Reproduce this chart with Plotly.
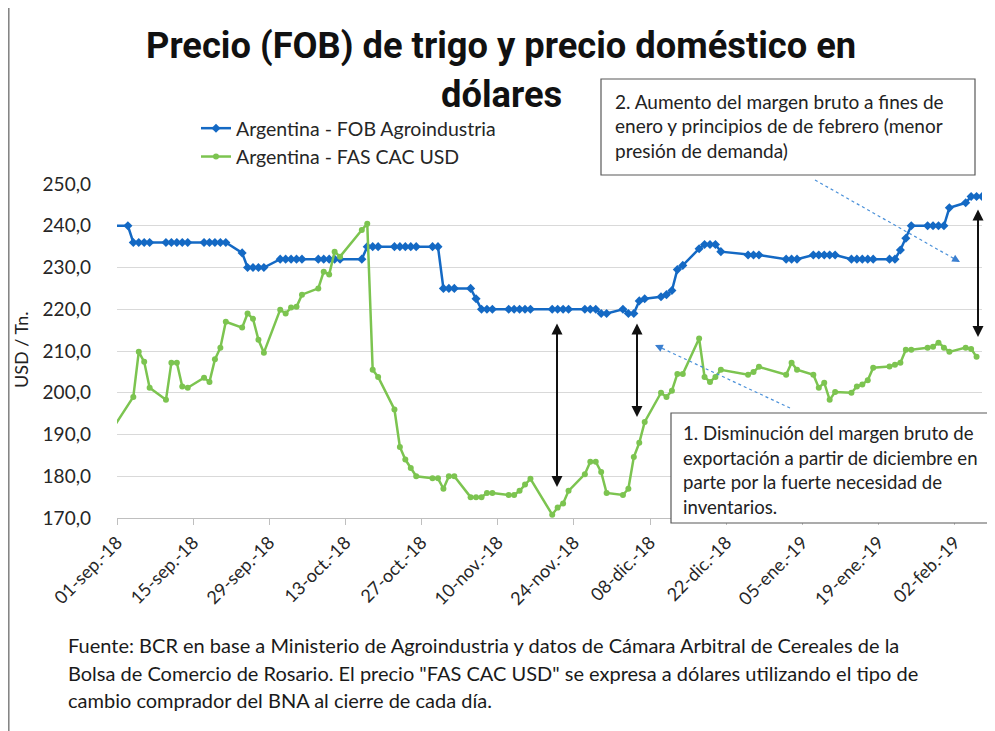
import plotly.graph_objects as go

# ---------------- data ----------------
dates = [
    "2018-08-31", "2018-09-03", "2018-09-04", "2018-09-05", "2018-09-06", "2018-09-07",
    "2018-09-10", "2018-09-11", "2018-09-12", "2018-09-13", "2018-09-14",
    "2018-09-17", "2018-09-18", "2018-09-19", "2018-09-20", "2018-09-21",
    "2018-09-24", "2018-09-25", "2018-09-26", "2018-09-27", "2018-09-28",
    "2018-10-01", "2018-10-02", "2018-10-03", "2018-10-04", "2018-10-05",
    "2018-10-08", "2018-10-09", "2018-10-10", "2018-10-11", "2018-10-12",
    "2018-10-16", "2018-10-17", "2018-10-18", "2018-10-19",
    "2018-10-22", "2018-10-23", "2018-10-24", "2018-10-25", "2018-10-26",
    "2018-10-29", "2018-10-30", "2018-10-31", "2018-11-01", "2018-11-02",
    "2018-11-05", "2018-11-06", "2018-11-07", "2018-11-08", "2018-11-09",
    "2018-11-12", "2018-11-13", "2018-11-14", "2018-11-15", "2018-11-16",
    "2018-11-20", "2018-11-21", "2018-11-22", "2018-11-23",
    "2018-11-26", "2018-11-27", "2018-11-28", "2018-11-29", "2018-11-30",
    "2018-12-03", "2018-12-04", "2018-12-05", "2018-12-06", "2018-12-07",
    "2018-12-10", "2018-12-11", "2018-12-12", "2018-12-13", "2018-12-14",
    "2018-12-17", "2018-12-18", "2018-12-19", "2018-12-20", "2018-12-21",
    "2018-12-26", "2018-12-27", "2018-12-28",
    "2019-01-02", "2019-01-03", "2019-01-04",
    "2019-01-07", "2019-01-08", "2019-01-09", "2019-01-10", "2019-01-11",
    "2019-01-14", "2019-01-15", "2019-01-16", "2019-01-17", "2019-01-18",
    "2019-01-21", "2019-01-22", "2019-01-23", "2019-01-24", "2019-01-25",
    "2019-01-28", "2019-01-29", "2019-01-30", "2019-01-31", "2019-02-01",
    "2019-02-04", "2019-02-05", "2019-02-06", "2019-02-07",
]

fob_agroindustria = [
    240, 240, 236, 236, 236, 236,
    236, 236, 236, 236, 236,
    236, 236, 236, 236, 236,
    233.5, 230, 230, 230, 230,
    232, 232, 232, 232, 232,
    232, 232, 232, 232, 232,
    232, 235, 235, 235,
    235, 235, 235, 235, 235,
    235, 235, 225, 225, 225,
    225, 222.5, 220, 220, 220,
    220, 220, 220, 220, 220,
    220, 220, 220, 220,
    220, 220, 220, 219, 219,
    220, 219, 219, 222, 222.5,
    223, 223.5, 224.5, 229.5, 230.5,
    234.5, 235.5, 235.5, 235.5, 233.8,
    233, 233, 233,
    232, 232, 232,
    233, 233, 233, 233, 233,
    232, 232, 232, 232, 232,
    232, 232, 234.2, 237, 240,
    240, 240, 240, 240, 244.3,
    245.5, 247, 247, 247,
]

fas_cac_usd = [
    191, None, 199, 209.8, 207.4, 201.2,
    198.3, 207.2, 207.2, 201.5, 201.2,
    203.6, 202.6, 208, 210.8, 217,
    215.6, 219, 217.7, 212.7, 209.6,
    219.9, 219, 220.4, 220.6, 223.5,
    225, 229, 228.3, 233.8, 232.6,
    239, 240.5, 205.5, 203.8,
    196, 187, 184, 182, 180,
    179.5, 179.5, 177, 180, 180,
    175, 175, 175, 176, 176,
    175.5, 175.5, 176.5, 178, 179.4,
    170.8, 172.5, 173.5, 176.5,
    180.5, 183.5, 183.5, 181, 176,
    175.5, 177, 184.6, 188, 193,
    200, 199, 200.5, 204.5, 204.5,
    213, 203.8, 202.6, 203.8, 205.5,
    204.3, 205, 206.2,
    204.3, 207.2, 205.5,
    204.3, 201.2, 202.4, 198.3, 200.2,
    200, 201.5, 202, 203, 206,
    206.3, 206.7, 207.2, 210.3, 210.3,
    210.8, 211, 212, 210.8, 209.8,
    210.8, 210.5, 208.6, None,
]

tick_dates = ["2018-09-01", "2018-09-15", "2018-09-29", "2018-10-13", "2018-10-27",
              "2018-11-10", "2018-11-24", "2018-12-08", "2018-12-22", "2019-01-05",
              "2019-01-19", "2019-02-02"]
tick_labels = ["01-sep.-18", "15-sep.-18", "29-sep.-18", "13-oct.-18", "27-oct.-18",
               "10-nov.-18", "24-nov.-18", "08-dic.-18", "22-dic.-18", "05-ene.-19",
               "19-ene.-19", "02-feb.-19"]

# ---------------- layout helpers ----------------
# page body has an 8px margin: figure is drawn at screen offset (8, 8)
OFF = 8
W, H = 995 - OFF, 731 - OFF
# plot area in screen pixels
PL, PR, PT, PB = 117, 982, 184, 518


def px(x):
    return (x - PL) / (PR - PL)


def py(y):
    return (PB - y) / (PB - PT)


FONT = "Lato, 'Open Sans', sans-serif"
TITLE_FONT = "Roboto, 'Liberation Sans', sans-serif"
BLUE = "#1469C4"
GREEN = "#7CC450"
TXT = "#222222"

fig = go.Figure()
fig.add_trace(go.Scatter(
    x=dates, y=fob_agroindustria, name="Argentina - FOB Agroindustria",
    mode="lines+markers", connectgaps=True, legendgroup="a",
    line=dict(color=BLUE, width=2.5),
    marker=dict(symbol="diamond", size=7, color=BLUE),
))
fig.add_trace(go.Scatter(
    x=dates, y=fas_cac_usd, name="Argentina - FAS CAC USD",
    mode="lines+markers", connectgaps=True, legendgroup="b",
    line=dict(color=GREEN, width=2.5),
    marker=dict(symbol="circle", size=6, color=GREEN),
))

annotations = []
shapes = []

# title
for text, yc in [("<b>Precio (FOB) de trigo y precio doméstico en</b>", 45), ("<b>dólares</b>", 95)]:
    annotations.append(dict(xref="paper", yref="paper", x=px(501), y=py(yc), xanchor="center", yanchor="middle",
                            text=text, showarrow=False,
                            font=dict(family=TITLE_FONT, size=36.3, color="#111111")))

# y axis title
annotations.append(dict(xref="paper", yref="paper", x=px(21), y=py(350), xanchor="center", yanchor="middle",
                        text="USD / Tn.", textangle=-90, showarrow=False,
                        font=dict(family=FONT, size=18, color=TXT)))

# footnote
foot = ["Fuente: BCR en base a Ministerio de Agroindustria y datos de Cámara Arbitral de Cereales de la",
        "Bolsa de Comercio de Rosario. El precio \"FAS CAC USD\" se expresa a dólares utilizando el tipo de",
        "cambio comprador del BNA al cierre de cada día."]
for i, t in enumerate(foot):
    annotations.append(dict(xref="paper", yref="paper", x=px(66), y=py(645 + 27.5 * i), xanchor="left",
                            yanchor="middle", text=t, showarrow=False,
                            font=dict(family=FONT, size=20, color="#1a1a1a")))

# box 1
shapes.append(dict(type="rect", xref="paper", yref="paper", x0=px(671), x1=px(993), y0=py(413), y1=py(523),
                   line=dict(color="#595959", width=1.2), fillcolor="white", layer="above"))
box1 = ["1. Disminución del margen bruto de", "exportación a partir de diciembre en",
        "parte por la fuerte necesidad de", "inventarios."]
for i, t in enumerate(box1):
    annotations.append(dict(xref="paper", yref="paper", x=px(681), y=py(433 + 24.7 * i), xanchor="left",
                            yanchor="middle", text=t, showarrow=False,
                            font=dict(family=FONT, size=18.6, color=TXT)))

# box 2
shapes.append(dict(type="rect", xref="paper", yref="paper", x0=px(601), x1=px(975), y0=py(79), y1=py(175),
                   line=dict(color="#595959", width=1.2), fillcolor="white", layer="above"))
box2 = ["2. Aumento del margen bruto a fines de", "enero y principios de de febrero (menor",
        "presión de demanda)"]
for i, t in enumerate(box2):
    annotations.append(dict(xref="paper", yref="paper", x=px(613), y=py(101 + 24.7 * i), xanchor="left",
                            yanchor="middle", text=t, showarrow=False,
                            font=dict(family=FONT, size=19.0, color=TXT)))

# black double arrows
for (ax_x, y_top, y_bot) in [(557, 322, 487), (637, 322, 417), (978, 208, 337)]:
    annotations.append(dict(xref="paper", yref="paper", x=px(ax_x), y=py(y_bot), ax=0, ay=y_top - y_bot,
                            axref="pixel", ayref="pixel", text="", showarrow=True,
                            arrowhead=2, startarrowhead=2, arrowside="end+start",
                            arrowsize=1.1, startarrowsize=1.1, arrowwidth=2, arrowcolor="#111111"))

# blue dotted arrows (tail -> head)
for (tx, ty, hx, hy) in [(790, 408, 655, 345), (815, 180, 960, 262)]:
    shapes.append(dict(type="line", xref="paper", yref="paper", x0=px(tx), y0=py(ty), x1=px(hx), y1=py(hy),
                       line=dict(color="#4A90D9", width=1.2, dash="dot")))
    dx, dy = tx - hx, ty - hy
    n = (dx * dx + dy * dy) ** 0.5
    annotations.append(dict(xref="paper", yref="paper", x=px(hx), y=py(hy), ax=dx / n * 10, ay=dy / n * 10,
                            axref="pixel", ayref="pixel", text="", showarrow=True,
                            arrowhead=2, arrowsize=1.3, arrowwidth=1.2, arrowcolor="#3A7FD0"))

# left frame line
shapes.append(dict(type="line", xref="paper", yref="paper", x0=px(8.8), x1=px(8.8), y0=py(8), y1=py(731),
                   line=dict(color="#7f7f7f", width=1.5)))

fig.update_layout(
    width=W, height=H,
    margin=dict(l=PL - OFF, r=W - (PR - OFF), t=PT - OFF, b=H - (PB - OFF), pad=0),
    paper_bgcolor="white", plot_bgcolor="white",
    separators=",.",
    showlegend=True,
    legend=dict(x=px(196), y=py(109), xanchor="left", yanchor="top", orientation="v",
                bgcolor="rgba(0,0,0,0)", font=dict(family=FONT, size=19.5, color="#262626"),
                tracegroupgap=0, itemwidth=30),
    annotations=annotations, shapes=shapes,
    font=dict(family=FONT),
)

fig.update_xaxes(
    type="date", range=["2018-09-01", "2019-02-07"],
    tickvals=tick_dates, ticktext=tick_labels, tickangle=-45,
    tickfont=dict(family=FONT, size=18, color="#262626"),
    showgrid=False, showline=True, linecolor="#BFBFBF", linewidth=1,
    ticks="outside", ticklen=6, tickcolor="#BFBFBF", zeroline=False,
)
fig.update_yaxes(
    range=[170, 250], dtick=10, tick0=170, tickformat=".1f",
    tickfont=dict(family=FONT, size=19, color="#262626"),
    showgrid=True, gridcolor="#D9D9D9", gridwidth=1, zeroline=False, showline=False,
    ticks="", ticklabelstandoff=25,
)

fig.write_html("out.html")
